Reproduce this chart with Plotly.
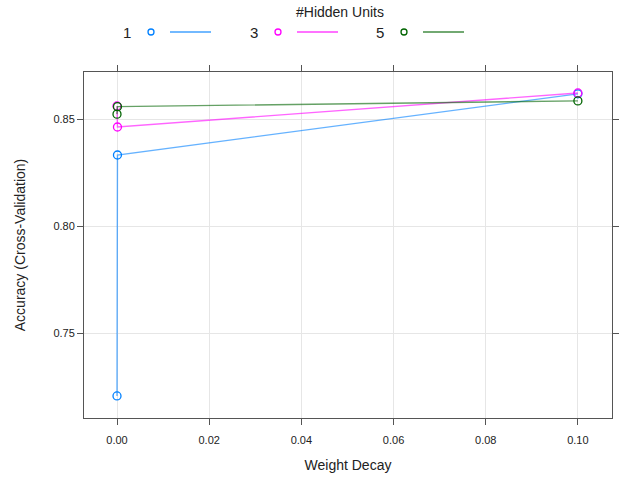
import plotly.graph_objects as go

decay = [0.0, 0.0001, 0.1]
size_labels = ["1", "3", "5"]
acc_size1 = [0.7206, 0.8332, 0.8618]
acc_size3 = [0.8561, 0.8463, 0.8622]
acc_size5 = [0.8523, 0.8558, 0.8585]
series = [acc_size1, acc_size3, acc_size5]
colors = ["#0080ff", "#ff00ff", "#006400"]
x_ticks = [0.0, 0.02, 0.04, 0.06, 0.08, 0.10]
x_ticktext = ["0.00", "0.02", "0.04", "0.06", "0.08", "0.10"]
y_ticks = [0.75, 0.80, 0.85]

W, H = 619, 481
L, R, T, B = 84, 612, 72, 418

fig = go.Figure()
for lab, ys, c in zip(size_labels, series, colors):
    fig.add_trace(go.Scatter(x=decay, y=ys, mode="lines", line=dict(color=c, width=1.4),
                             opacity=0.6, showlegend=False, hoverinfo="skip"))
    fig.add_trace(go.Scatter(x=decay, y=ys, mode="markers", name=lab,
                             marker=dict(symbol="circle-open", size=8, color=c, line=dict(width=1.3)),
                             showlegend=False))

def px(xp):
    return (xp - L) / (R - L)

def py(yp):
    return (B - yp) / (B - T)

font = "Liberation Sans, Arial, Helvetica, sans-serif"
ann = [dict(text="#Hidden Units", x=px(340), y=py(12), xref="paper", yref="paper",
            xanchor="center", yanchor="middle",
            showarrow=False, font=dict(size=14, color="#222", family=font))]
shapes = []
starts = [127, 254, 380]
for lab, c, sx in zip(size_labels, colors, starts):
    ann.append(dict(text=lab, x=px(sx), y=py(32), xref="paper", yref="paper", showarrow=False,
                    xanchor="center", yanchor="middle",
                    font=dict(size=15, color="#222", family=font)))
    cx = sx + 24
    shapes.append(dict(type="circle", xref="paper", yref="paper",
                       x0=px(cx - 3), x1=px(cx + 3), y0=py(32 + 3), y1=py(32 - 3),
                       line=dict(color=c, width=1.3)))
    shapes.append(dict(type="line", xref="paper", yref="paper",
                       x0=px(sx + 43), x1=px(sx + 84), y0=py(32), y1=py(32),
                       line=dict(color=c, width=1.8), opacity=0.55))

axis_common = dict(showline=True, linecolor="#555", linewidth=1, mirror="ticks",
                   ticks="outside", ticklen=6, tickcolor="#555", showgrid=True,
                   gridcolor="#e6e6e6", gridwidth=1, zeroline=False, automargin=False,
                   tickfont=dict(size=11, color="#222", family=font))

fig.update_layout(
    width=W, height=H,
    margin=dict(l=L, r=W - R, t=T, b=H - B),
    plot_bgcolor="white", paper_bgcolor="white",
    xaxis=dict(range=[-0.00716, 0.1074], tickvals=x_ticks, ticktext=x_ticktext,
               ticklabelstandoff=6,
               title=dict(text="Weight Decay", font=dict(size=14, color="#222", family=font), standoff=14),
               **axis_common),
    yaxis=dict(range=[0.7103, 0.872], tickvals=y_ticks, ticktext=["0.75", "0.80", "0.85"],
               title=dict(text="Accuracy (Cross-Validation)", font=dict(size=14, color="#222", family=font), standoff=24),
               **axis_common),
    annotations=ann, shapes=shapes,
    font=dict(family=font),
)
fig.write_html("out.html", config={"displayModeBar": False},
               post_script="document.body.style.margin='0px';document.body.style.overflow='hidden';")
